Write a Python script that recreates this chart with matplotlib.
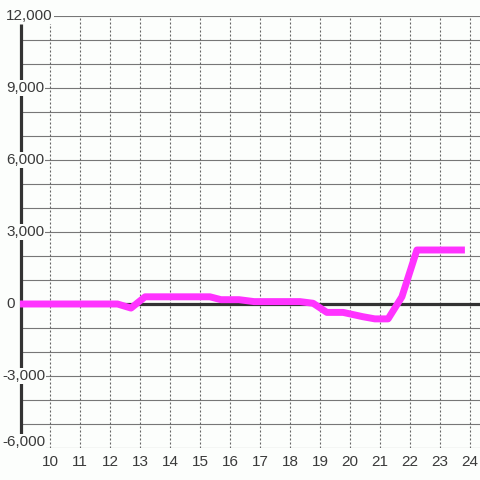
import numpy as np
import matplotlib.pyplot as plt

# hour of day vs value
hours = [9.0, 12.25, 12.7, 13.17, 15.33, 15.7, 16.3, 16.8, 18.33, 18.77,
         19.23, 19.77, 20.43, 20.83, 21.27, 21.73, 22.23, 23.83]
values = [0, 0, -170, 300, 300, 180, 180, 100, 100, 30,
          -350, -350, -530, -620, -620, 300, 2250, 2250]

x_ticks = list(range(10, 25))
y_labels = [-6000, -3000, 0, 3000, 6000, 9000, 12000]

plt.rcParams['font.family'] = ['Liberation Sans', 'DejaVu Sans']

fig = plt.figure(figsize=(4.8, 4.8), dpi=100)
fig.patch.set_facecolor('#fcfefc')
# axes placed in pixels: left 20, right 480, top 16, bottom 448
ax = fig.add_axes([20 / 480, 32 / 480, 460 / 480, 432 / 480])
ax.set_facecolor('#fcfefc')
ax.set_xlim(9, 9 + 460 / 30)
ax.set_ylim(-6000, 12000)

# solid horizontal grid every 1000
for v in range(-6000, 12001, 1000):
    ax.axhline(v, color='#777777', lw=0.8, zorder=1)
# dotted vertical grid every hour
for h in x_ticks:
    ax.axvline(h, color='#666666', lw=0.8, ls=(0, (1.8, 1.8)), zorder=1)

ax.axhline(0, color='#333333', lw=2.3, zorder=2)
ax.plot([9.02, 9.02], [-5450, 11650], color='#333333', lw=2.3,
        solid_capstyle='butt', zorder=2, clip_on=False)

ax.plot(hours, values, color='#ff33ff', lw=5, solid_capstyle='butt',
        solid_joinstyle='round', zorder=3)

for s in ax.spines.values():
    s.set_visible(False)

ax.set_xticks(x_ticks)
ax.set_xticklabels([str(h) for h in x_ticks])
ax.tick_params(axis='x', length=0, pad=5, labelsize=11, labelcolor='#3a3a3a')
ax.set_yticks([])

# y labels sit inside the plot with white boxes
for v in y_labels:
    xpix = 2 if v < 0 else 6
    ypix = 6 if v == -6000 else 0
    ax.annotate(f'{v:,}', xy=(0, v), xycoords=('axes fraction', 'data'),
                xytext=(xpix - 20, ypix), textcoords='offset pixels',
                ha='left', va='center', fontsize=11, color='#3a3a3a',
                bbox=dict(boxstyle='square,pad=0.08', fc='#fcfefc', ec='none'),
                zorder=5, annotation_clip=False)

fig.savefig('out.png', dpi=100, facecolor=fig.get_facecolor())
